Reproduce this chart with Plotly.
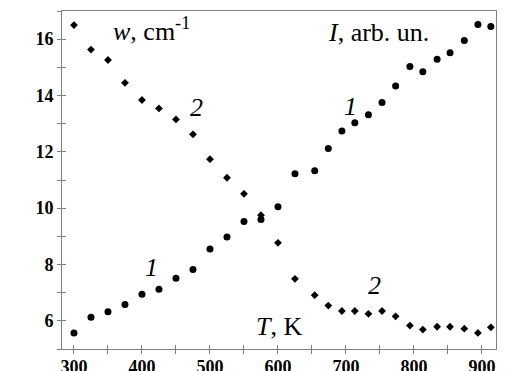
import plotly.graph_objects as go

# Temperature, K (shared by both series)
T = [300, 325, 350, 375, 400, 425, 450, 475, 500, 525, 550, 575, 600, 625,
     654, 674, 694, 713, 733, 753, 773, 794, 813, 834, 853, 874, 894, 913]

# Series 1: intensity I, arb. un.
intensity = [5.57, 6.13, 6.32, 6.58, 6.94, 7.12, 7.51, 7.82, 8.55, 8.98, 9.53, 9.60,
             10.05, 11.22, 11.33, 12.12, 12.74, 13.03, 13.32, 13.75, 14.34, 15.03,
             14.84, 15.29, 15.52, 15.95, 16.52, 16.45]

# Series 2: line width w, cm^-1
width = [16.50, 15.63, 15.26, 14.45, 13.84, 13.54, 13.15, 12.62, 11.74, 11.08, 10.51,
         9.75, 8.77, 7.49, 6.91, 6.54, 6.35, 6.35, 6.25, 6.35, 6.16, 5.83, 5.69, 5.79,
         5.79, 5.72, 5.57, 5.77]

x_ticks = [300, 400, 500, 600, 700, 800, 900]
y_ticks = [6, 8, 10, 12, 14, 16]

X_RANGE = [282.4, 920.6]
Y_RANGE = [5.0, 17.0]
GREY = "#808080"
SERIF = "Liberation Serif"

fig = go.Figure()
fig.add_trace(go.Scatter(
    x=T, y=intensity, mode="markers",
    marker=dict(symbol="circle", size=7, color="black"),
    xaxis="x", yaxis="y", showlegend=False,
))
fig.add_trace(go.Scatter(
    x=T, y=width, mode="markers",
    marker=dict(symbol="diamond", size=6, color="black"),
    xaxis="x2", yaxis="y2", showlegend=False,
))

tickfont = dict(family=SERIF, size=18, color="black", weight="bold")

# Primary axes: frame, labels and outward ticks
xaxis = dict(range=X_RANGE, tickvals=x_ticks, showgrid=False, zeroline=False,
             showline=True, linecolor=GREY, linewidth=1, mirror=True,
             automargin=False, ticklabelstandoff=-3,
             ticks="outside", ticklen=4, tickcolor=GREY, tickwidth=1,
             minor=dict(dtick=50, tick0=300, ticks="outside", ticklen=4,
                        tickcolor=GREY, tickwidth=1, showgrid=False),
             tickfont=tickfont)
yaxis = dict(range=Y_RANGE, tickvals=y_ticks, showgrid=False, zeroline=False,
             showline=True, linecolor=GREY, linewidth=1, mirror=True,
             automargin=False,
             ticks="outside", ticklen=4, tickcolor=GREY, tickwidth=1,
             minor=dict(dtick=1, tick0=5, ticks="outside", ticklen=4,
                        tickcolor=GREY, tickwidth=1, showgrid=False),
             tickfont=tickfont)
# Overlaid axes: inward ticks so every tick crosses the axis line
xaxis2 = dict(range=X_RANGE, overlaying="x", side="bottom", tickvals=x_ticks,
              showgrid=False, zeroline=False, showline=False, showticklabels=False,
              automargin=False,
              ticks="inside", ticklen=4, tickcolor=GREY, tickwidth=1,
              minor=dict(dtick=50, tick0=300, ticks="inside", ticklen=4,
                         tickcolor=GREY, tickwidth=1, showgrid=False))
yaxis2 = dict(range=Y_RANGE, overlaying="y", side="left", tickvals=y_ticks,
              showgrid=False, zeroline=False, showline=False, showticklabels=False,
              automargin=False,
              ticks="inside", ticklen=4, tickcolor=GREY, tickwidth=1,
              minor=dict(dtick=1, tick0=5, ticks="inside", ticklen=4,
                         tickcolor=GREY, tickwidth=1, showgrid=False))


def label(text, x, y, size=25):
    return dict(text=text, x=x, y=y, xref="paper", yref="paper",
                xanchor="center", yanchor="middle", showarrow=False,
                font=dict(family=SERIF, size=size, color="black"))


annotations = [
    label("<i>w</i>, cm<sup>-1</sup>", 0.206, 0.945, 26),
    label("<i>I</i>, arb. un.", 0.730, 0.937, 26),
    label("<i>2</i>", 0.309, 0.714, 26),
    label("<i>1</i>", 0.665, 0.717, 26),
    label("<i>1</i>", 0.207, 0.242, 26),
    label("<i>2</i>", 0.721, 0.187, 26),
    label("<i>T</i>, K", 0.50, 0.067, 26),
]

fig.update_layout(
    width=506, height=371,
    margin=dict(l=62, r=10, t=11, b=22),
    paper_bgcolor="white", plot_bgcolor="white",
    font=dict(family=SERIF),
    xaxis=xaxis, yaxis=yaxis, xaxis2=xaxis2, yaxis2=yaxis2,
    annotations=annotations,
)

fig.write_html("out.html")
